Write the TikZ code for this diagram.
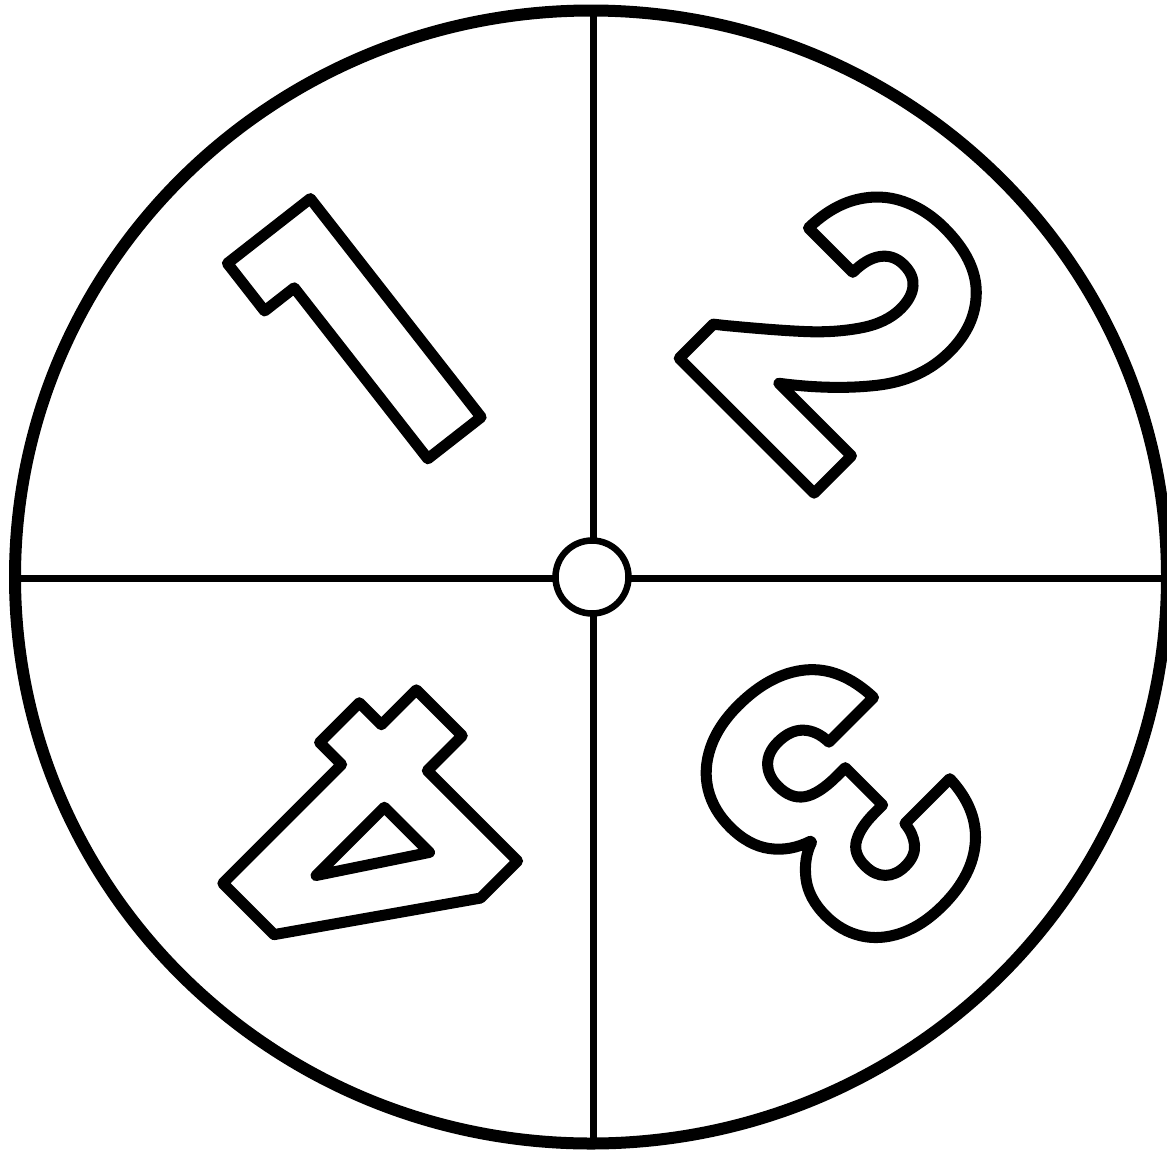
\documentclass[tikz,border=0pt]{standalone}
\usepackage{fontspec}
\newfontfamily\digitfont{Poppins}
\usetikzlibrary{calc}

% outlined glyph (stroke only)
\newcommand{\hollow}[1]{%
  \special{pdf:literal direct 1 Tr 11 w 1 j 1 J}#1\special{pdf:literal direct 0 Tr}}

\begin{document}
\begin{tikzpicture}[
    x=1pt, y=-1pt,
    rim/.style={line width=12pt},
    divider/.style={line width=7pt},
    hub/.style={circle, draw, fill=white, line width=6.5pt,
                minimum size=73pt, inner sep=0pt},
    digit/.style={font=\digitfont\bfseries\fontsize{380}{380}\selectfont,
                  inner sep=0pt},
]
\useasboundingbox (0,0) rectangle (1167,1151);

\coordinate (c) at (592,577);
% rim and quarters
\draw[rim] (591,577) ellipse [x radius=576, y radius=566.5];
\coordinate (top)    at (593,12);
\coordinate (bottom) at (593,1142);
\coordinate (left)   at (18,578);
\coordinate (right)  at (1167,578);
\draw[divider] (top) -- (bottom);
\draw[divider] (left) -- (right);
\node[hub] (hub) at (c) {};

% numbers
\node[digit, rotate=38]   (one)   at (361,335) {\hollow{1}};
\node[digit, rotate=-45]  (two)   at (843,327) {\hollow{2}};
\node[digit, rotate=-135] (three) at (841,805) {\hollow{3}};
\node[digit, rotate=135]  (four)  at (378,845) {\hollow{4}};
\end{tikzpicture}
\end{document}
